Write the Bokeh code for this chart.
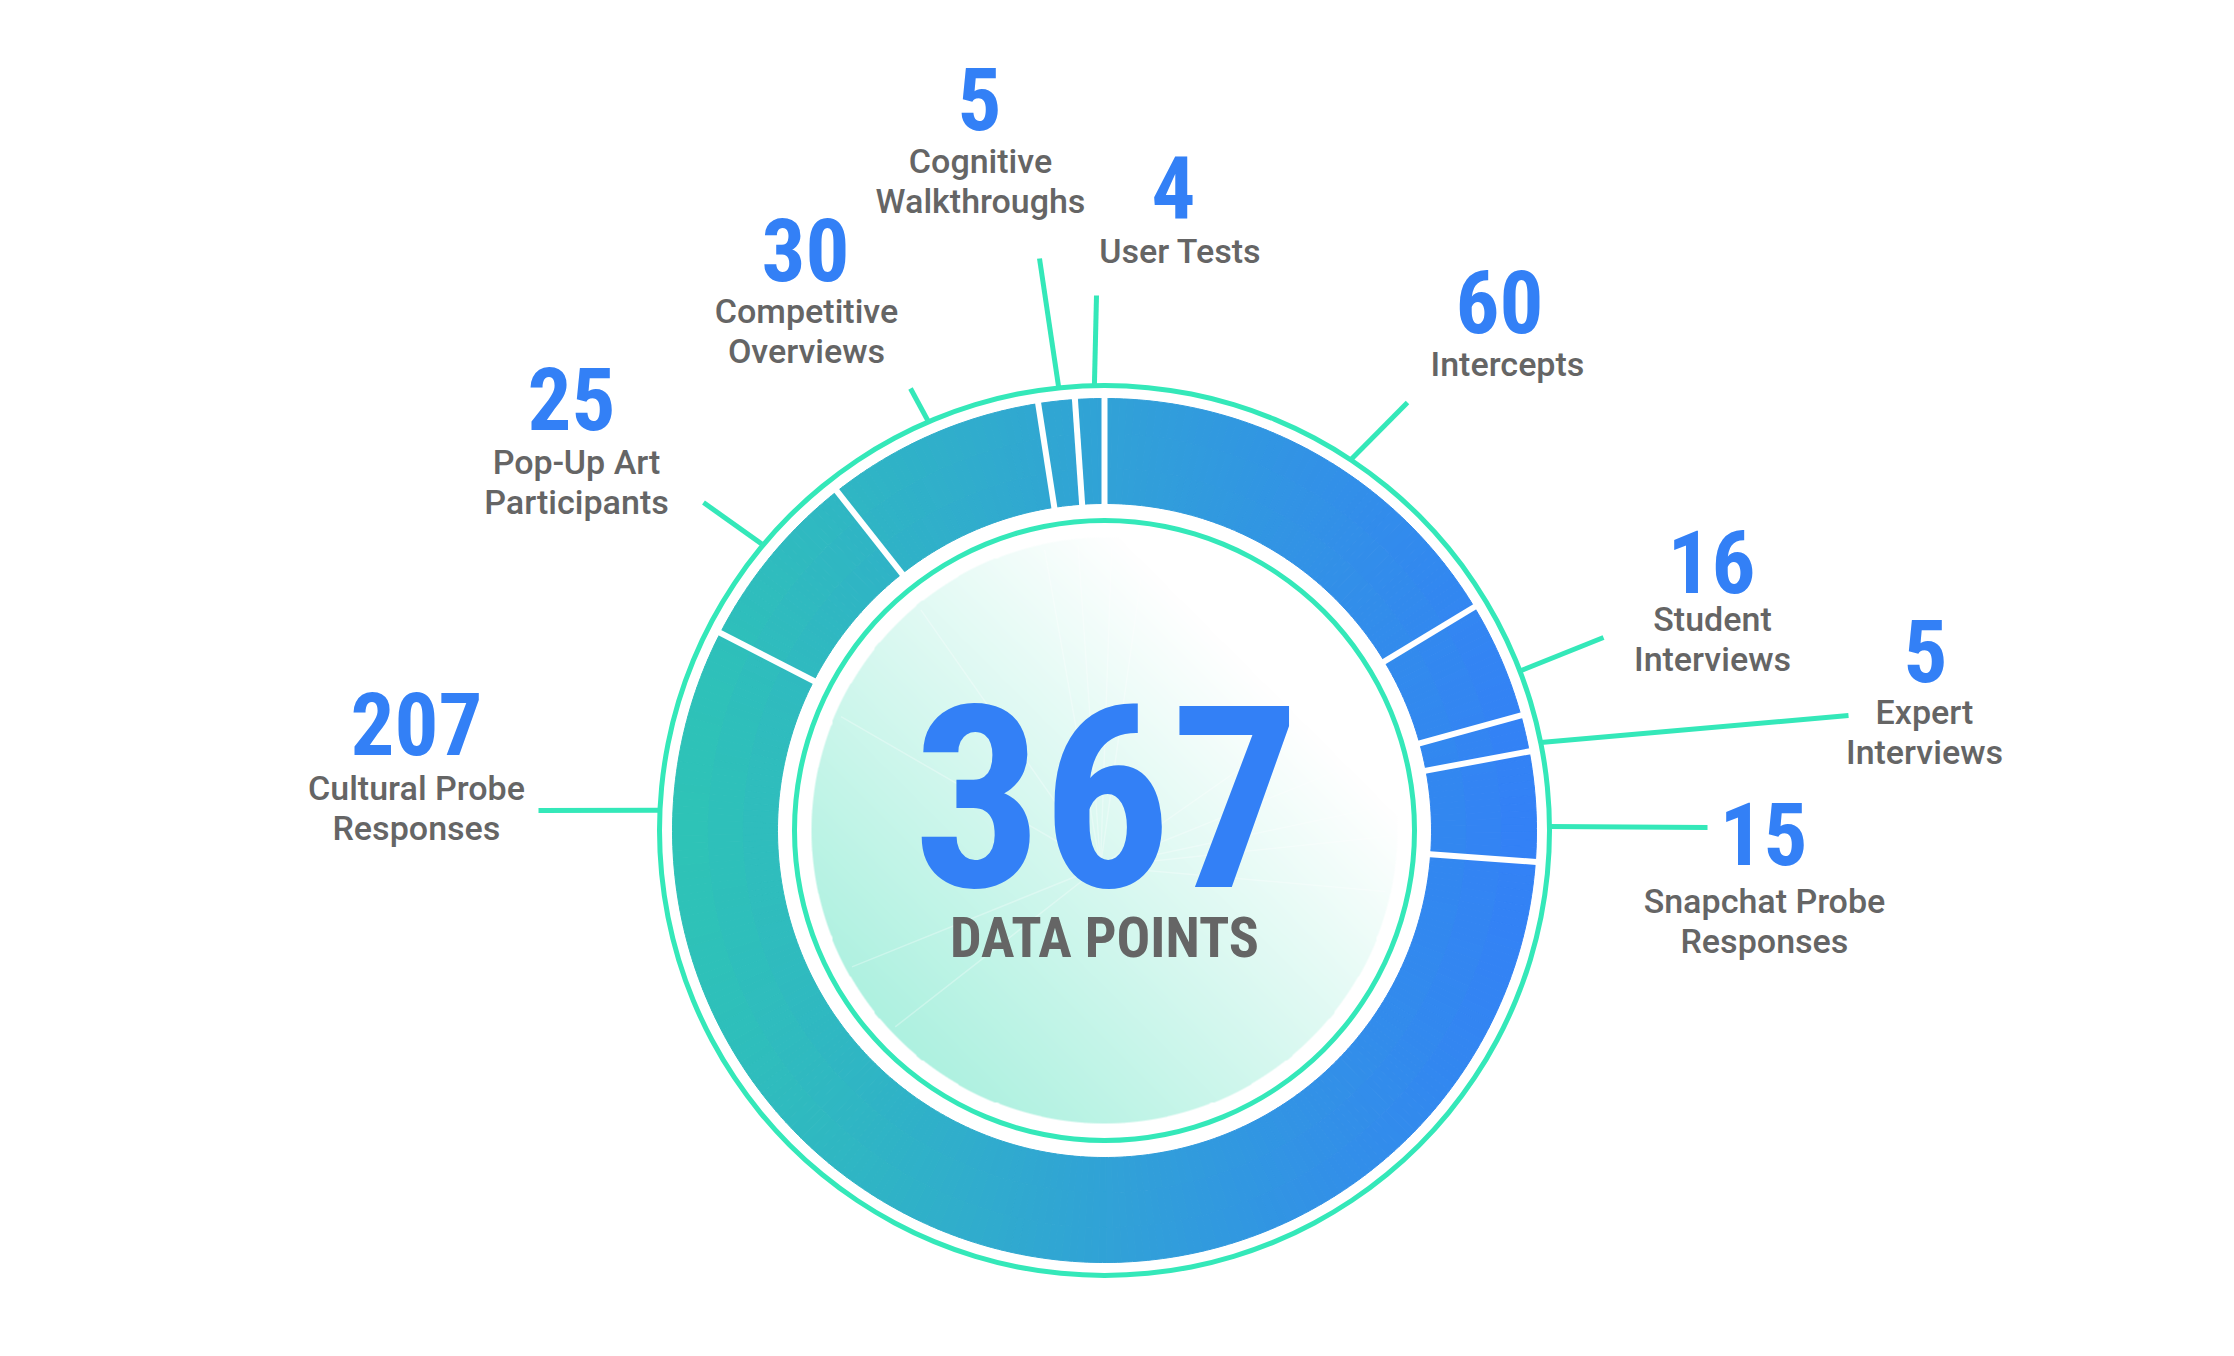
import math
import numpy as np
from bokeh.plotting import figure
from bokeh.models import Range1d, ColumnDataSource
from bokeh.core.properties import value
from bokeh.embed import file_html
from bokeh.resources import INLINE

# ---------------- data ----------------
categories = ["Intercepts", "Student Interviews", "Expert Interviews",
              "Snapchat Probe Responses", "Cultural Probe Responses",
              "Pop-Up Art Participants", "Competitive Overviews",
              "Cognitive Walkthroughs", "User Tests"]
values = [60, 16, 5, 15, 207, 25, 30, 5, 4]
label_lines = [["Intercepts"], ["Student", "Interviews"], ["Expert", "Interviews"],
               ["Snapchat Probe", "Responses"], ["Cultural Probe", "Responses"],
               ["Pop-Up Art", "Participants"], ["Competitive", "Overviews"],
               ["Cognitive", "Walkthroughs"], ["User Tests"]]
center_caption = "DATA POINTS"

# ---------------- layout (pixels, image coordinates, y down) ----------------
W, H = 2234, 1356
CX, CY = 1104, 830
R_OUT, R_IN = 432, 327
RING_OUT_R, RING_IN_R, RING_W = 445, 310, 5
DISK_R = 293

num_x = [1499, 1711, 1925, 1763, 416, 571, 805, 979, 1173]
num_base = [333, 593, 682, 865, 755, 430, 281, 130, 218]
txt_x = [1507, 1712, 1924, 1764, 416, 576, 806, 980, 1180]
txt_base = [376, 631, 724, 913, 800, 474, 323, 173, 263]
LINE_H = 40
lead_theta = [33.6, 69.0, 78.6, 89.5, 272.6, 309.9, 336.7, 354.1, 358.7]
lead_out = [(1407, 402), (1603, 637), (1848, 715), (1707, 827), (538, 810),
            (703, 502), (910, 388), (1039, 258), (1096, 295)]

NUM_SIZE, TXT_SIZE, BIG_SIZE, CAP_SIZE = 87, 34, 255, 56
BASE_FIX = 0.37  # renderer places alphabetic baseline ~0.37em low

BLUE_TXT = "#3380F6"
GRAY_TXT = "#656565"
GREEN = "#34E8B9"
TEAL = np.array([46, 196, 182])
BLUE = np.array([51, 128, 247])
COND = "Roboto Condensed, DejaVu Sans Condensed, Liberation Sans Narrow, Roboto"
MED = "Roboto Medium, Roboto"


def by(y):
    return H - y


def tb(y, size):
    return by(y - BASE_FIX * size)


cx, cy = CX, by(CY)

p = figure(width=W, height=H, x_range=Range1d(0, W), y_range=Range1d(0, H),
           output_backend="svg", toolbar_location=None, min_border=0,
           x_axis_type=None, y_axis_type=None, outline_line_color=None,
           background_fill_color="white", border_fill_color="white")
p.grid.visible = False

# ---------------- inner disk gradient ----------------
N = 600
g = (np.arange(N) + 0.5) / N * 2 - 1
X, Y = np.meshgrid(g, g)
d = np.sqrt(X ** 2 + Y ** 2)
alpha = np.clip((1 - d) * DISK_R + 0.5, 0, 1)
s = np.clip(((X + Y) / (2 * np.sqrt(2)) + 0.5) * 1.15, 0, 1)
c0 = np.array([174, 241, 224])
rgb = c0[None, None, :] + (255 - c0)[None, None, :] * s[..., None]
img = np.empty((N, N), dtype=np.uint32)
view = img.view(dtype=np.uint8).reshape((N, N, 4))
view[..., 0] = rgb[..., 0].astype(np.uint8)
view[..., 1] = rgb[..., 1].astype(np.uint8)
view[..., 2] = rgb[..., 2].astype(np.uint8)
view[..., 3] = (alpha * 255).astype(np.uint8)
p.image_rgba(image=[img], x=cx - DISK_R, y=cy - DISK_R, dw=2 * DISK_R, dh=2 * DISK_R)

# faint light rays inside the disk
ray_origin = (1100, 866)
ray_dirs = [-128, -112, -60, -35, -10, -4, 2, 8, 55, 68, 78, 84, 95]
rx0, ry0, rx1, ry1 = [], [], [], []
ox, oy = ray_origin[0] - CX, -(ray_origin[1] - CY)
for ang in ray_dirs:
    a = math.radians(90 - ang)
    dx, dy = math.cos(a), math.sin(a)
    bq = ox * dx + oy * dy
    tt = -bq + math.sqrt(bq * bq - (ox * ox + oy * oy - (DISK_R - 6) ** 2))
    rx0.append(cx + ox); ry0.append(cy + oy)
    rx1.append(cx + ox + tt * dx); ry1.append(cy + oy + tt * dy)
p.segment(x0=rx0, y0=ry0, x1=rx1, y1=ry1, line_color="white", line_alpha=0.3, line_width=1.5)

# ---------------- rings ----------------
p.annulus(x=cx, y=cy, inner_radius=RING_OUT_R - RING_W / 2, outer_radius=RING_OUT_R + RING_W / 2,
          fill_color=GREEN, line_color=None)
p.annulus(x=cx, y=cy, inner_radius=RING_IN_R - RING_W / 2, outer_radius=RING_IN_R + RING_W / 2,
          fill_color=GREEN, line_color=None)

# ---------------- donut with horizontal gradient ----------------
total = sum(values)
cum = np.cumsum([0] + values)
th0 = cum[:-1] / total * 360.0
th1 = cum[1:] / total * 360.0
NR = 3
wx, wy, wri, wro, wsa, wea, wcol = [], [], [], [], [], [], []
for i in range(len(values)):
    n = max(1, int(math.ceil((th1[i] - th0[i]) / 1.0)))
    edges = np.linspace(th0[i], th1[i], n + 1)
    for j in range(n):
        a, b = edges[j], edges[j + 1]
        m = math.radians((a + b) / 2)
        for k in range(NR):
            ri = R_IN + (R_OUT - R_IN) * k / NR
            ro = R_IN + (R_OUT - R_IN) * (k + 1) / NR
            rm = (ri + ro) / 2
            xm = CX + rm * math.sin(m)
            t = min(1, max(0, (xm - (CX - R_OUT)) / (2 * R_OUT)))
            c = TEAL + (BLUE - TEAL) * t
            wx.append(cx); wy.append(cy); wri.append(ri); wro.append(ro)
            wsa.append(math.radians(90 - b)); wea.append(math.radians(90 - a))
            wcol.append("#%02x%02x%02x" % tuple(int(round(v)) for v in c))
wsrc = ColumnDataSource(dict(x=wx, y=wy, ri=wri, ro=wro, sa=wsa, ea=wea, col=wcol))
p.annular_wedge(x="x", y="y", inner_radius="ri", outer_radius="ro", start_angle="sa",
                end_angle="ea", fill_color="col", line_color="col", line_width=1, source=wsrc)

# white separators between slices
sx0, sy0, sx1, sy1 = [], [], [], []
for th in cum[:-1] / total * 360.0:
    r = math.radians(th)
    sx0.append(cx + (R_IN - 4) * math.sin(r)); sy0.append(cy + (R_IN - 4) * math.cos(r))
    sx1.append(cx + (R_OUT + 4) * math.sin(r)); sy1.append(cy + (R_OUT + 4) * math.cos(r))
p.segment(x0=sx0, y0=sy0, x1=sx1, y1=sy1, line_color="white", line_width=6)

# ---------------- leader lines ----------------
lx0, ly0, lx1, ly1 = [], [], [], []
for th, (ex, ey) in zip(lead_theta, lead_out):
    r = math.radians(th)
    lx0.append(cx + RING_OUT_R * math.sin(r)); ly0.append(cy + RING_OUT_R * math.cos(r))
    lx1.append(ex); ly1.append(by(ey))
p.segment(x0=lx0, y0=ly0, x1=lx1, y1=ly1, line_color=GREEN, line_width=5)

# ---------------- labels ----------------
nsrc = ColumnDataSource(dict(x=num_x, y=[tb(v, NUM_SIZE) for v in num_base],
                             t=[str(v) for v in values]))
p.text(x="x", y="y", text="t", source=nsrc, text_font=value(COND), text_font_style="bold",
       text_font_size=f"{NUM_SIZE}px", text_color=BLUE_TXT, text_align="center",
       text_baseline="alphabetic")

tx, ty, tt_ = [], [], []
for i, lines in enumerate(label_lines):
    for li, line in enumerate(lines):
        tx.append(txt_x[i]); ty.append(tb(txt_base[i] + LINE_H * li, TXT_SIZE)); tt_.append(line)
tsrc = ColumnDataSource(dict(x=tx, y=ty, t=tt_))
p.text(x="x", y="y", text="t", source=tsrc, text_font=value(MED), text_font_size=f"{TXT_SIZE}px",
       text_color=GRAY_TXT, text_align="center", text_baseline="alphabetic")

# ---------------- center ----------------
p.text(x=[1106], y=[tb(890, BIG_SIZE)], text=[str(total)], text_font=value(COND),
       text_font_style="bold", text_font_size=f"{BIG_SIZE}px", text_color=BLUE_TXT,
       text_align="center", text_baseline="alphabetic")
p.text(x=[1104], y=[tb(958, CAP_SIZE)], text=[center_caption], text_font=value(COND),
       text_font_style="bold", text_font_size=f"{CAP_SIZE}px", text_color=GRAY_TXT,
       text_align="center", text_baseline="alphabetic")

open("out.html", "w").write(file_html(p, INLINE))
